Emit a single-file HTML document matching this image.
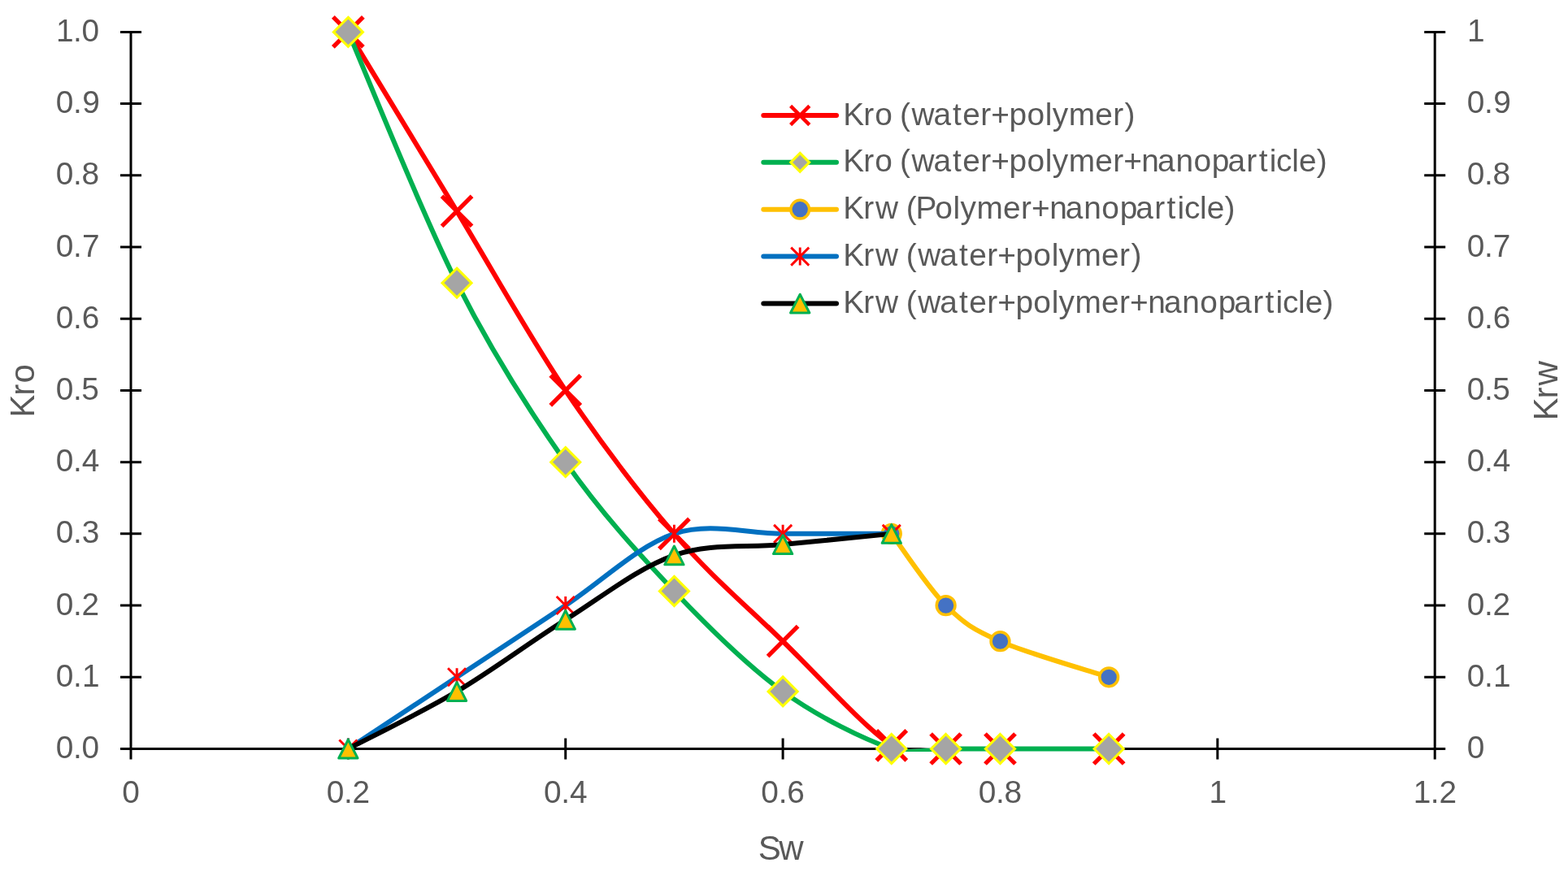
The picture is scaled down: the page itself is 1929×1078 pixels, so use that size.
<!DOCTYPE html><html><head><meta charset="utf-8"><title>Relative permeability chart</title><style>html,body{margin:0;padding:0;background:#fff;width:1929px;height:1078px;overflow:hidden}svg{display:block}text{font-family:"Liberation Sans",Arial,sans-serif;fill:#595959}</style></head><body>
<svg width="1929" height="1078" viewBox="0 0 1929 1078">
<rect width="1929" height="1078" fill="#fff"/>
<path d="M161.0,39.4L161.0,934.5M1765.2,39.4L1765.2,934.5M148.0,921.5L1778.2,921.5M148.0,921.50L174.0,921.50M1752.2,921.50L1778.2,921.50M148.0,833.29L174.0,833.29M1752.2,833.29L1778.2,833.29M148.0,745.08L174.0,745.08M1752.2,745.08L1778.2,745.08M148.0,656.87L174.0,656.87M1752.2,656.87L1778.2,656.87M148.0,568.66L174.0,568.66M1752.2,568.66L1778.2,568.66M148.0,480.45L174.0,480.45M1752.2,480.45L1778.2,480.45M148.0,392.24L174.0,392.24M1752.2,392.24L1778.2,392.24M148.0,304.03L174.0,304.03M1752.2,304.03L1778.2,304.03M148.0,215.82L174.0,215.82M1752.2,215.82L1778.2,215.82M148.0,127.61L174.0,127.61M1752.2,127.61L1778.2,127.61M148.0,39.40L174.0,39.40M1752.2,39.40L1778.2,39.40M161.00,908.5L161.00,934.5M428.37,908.5L428.37,934.5M695.73,908.5L695.73,934.5M963.10,908.5L963.10,934.5M1230.47,908.5L1230.47,934.5M1497.83,908.5L1497.83,934.5M1765.20,908.5L1765.20,934.5" stroke="#000" stroke-width="3" fill="none"/>
<text x="68.68 90.00 100.57" y="933.10" font-size="38.80">0.0</text>
<text x="1804.65" y="933.10" font-size="38.80">0</text>
<text x="68.68 90.00 100.91" y="844.89" font-size="38.80">0.1</text>
<text x="1804.65 1825.98 1836.88" y="844.89" font-size="38.80">0.1</text>
<text x="68.68 90.00 100.62" y="756.68" font-size="38.80">0.2</text>
<text x="1804.65 1825.98 1836.60" y="756.68" font-size="38.80">0.2</text>
<text x="68.68 90.00 100.86" y="668.47" font-size="38.80">0.3</text>
<text x="1804.65 1825.98 1836.83" y="668.47" font-size="38.80">0.3</text>
<text x="68.68 90.00 100.70" y="580.26" font-size="38.80">0.4</text>
<text x="1804.65 1825.98 1836.68" y="580.26" font-size="38.80">0.4</text>
<text x="68.68 90.00 100.32" y="492.05" font-size="38.80">0.5</text>
<text x="1804.65 1825.98 1836.29" y="492.05" font-size="38.80">0.5</text>
<text x="68.68 90.00 100.65" y="403.84" font-size="38.80">0.6</text>
<text x="1804.65 1825.98 1836.63" y="403.84" font-size="38.80">0.6</text>
<text x="68.68 90.00 100.88" y="315.63" font-size="38.80">0.7</text>
<text x="1804.65 1825.98 1836.85" y="315.63" font-size="38.80">0.7</text>
<text x="68.68 90.00 100.57" y="227.42" font-size="38.80">0.8</text>
<text x="1804.65 1825.98 1836.54" y="227.42" font-size="38.80">0.8</text>
<text x="68.68 90.00 101.20" y="139.21" font-size="38.80">0.9</text>
<text x="1804.65 1825.98 1837.18" y="139.21" font-size="38.80">0.9</text>
<text x="69.02 90.00 100.57" y="51.00" font-size="38.80">1.0</text>
<text x="1805.00" y="51.00" font-size="38.80">1</text>
<text x="150.21" y="988.20" font-size="38.80">0</text>
<text x="401.63 422.96 433.57" y="988.20" font-size="38.80">0.2</text>
<text x="669.00 690.32 701.02" y="988.20" font-size="38.80">0.4</text>
<text x="936.37 957.69 968.34" y="988.20" font-size="38.80">0.6</text>
<text x="1203.73 1225.06 1235.62" y="988.20" font-size="38.80">0.8</text>
<text x="1487.39" y="988.20" font-size="38.80">1</text>
<text x="1738.81 1759.79 1770.41" y="988.20" font-size="38.80">1.2</text>
<defs><linearGradient id="gb" x1="0" x2="1" y1="0" y2="0"><stop offset="0" stop-color="#000" stop-opacity="1"/><stop offset="0.6" stop-color="#000" stop-opacity="0.85"/><stop offset="1" stop-color="#000" stop-opacity="0"/></linearGradient></defs>
<path d="M428.37,39.40 C450.65,76.15 517.49,186.42 562.05,259.92 C606.61,333.43 651.17,414.29 695.73,480.45 C740.29,546.61 784.86,605.41 829.42,656.87 C873.98,708.33 918.54,745.79 963.10,789.18 C1007.66,832.58 1063.36,895.21 1096.78,917.27" stroke="#FF0000" stroke-width="6.0" fill="none" stroke-linejoin="round" stroke-linecap="round"/>
<path d="M409.87,20.90L446.87,57.90M409.87,57.90L446.87,20.90" stroke="#FF0000" stroke-width="5.30" fill="none"/>
<path d="M543.55,241.42L580.55,278.42M543.55,278.42L580.55,241.42" stroke="#FF0000" stroke-width="5.30" fill="none"/>
<path d="M677.23,461.95L714.23,498.95M677.23,498.95L714.23,461.95" stroke="#FF0000" stroke-width="5.30" fill="none"/>
<path d="M810.92,638.37L847.92,675.37M810.92,675.37L847.92,638.37" stroke="#FF0000" stroke-width="5.30" fill="none"/>
<path d="M944.60,770.68L981.60,807.68M944.60,807.68L981.60,770.68" stroke="#FF0000" stroke-width="5.30" fill="none"/>
<path d="M1078.28,898.77L1115.28,935.77M1078.28,935.77L1115.28,898.77" stroke="#FF0000" stroke-width="5.30" fill="none"/>
<path d="M1145.12,903.00L1182.12,940.00M1145.12,940.00L1182.12,903.00" stroke="#FF0000" stroke-width="5.30" fill="none"/>
<path d="M1211.97,903.00L1248.97,940.00M1211.97,940.00L1248.97,903.00" stroke="#FF0000" stroke-width="5.30" fill="none"/>
<path d="M1345.65,903.00L1382.65,940.00M1345.65,940.00L1382.65,903.00" stroke="#FF0000" stroke-width="5.30" fill="none"/>
<path d="M428.37,39.40 C450.65,90.86 517.49,259.93 562.05,348.13 C606.61,436.34 651.17,505.44 695.73,568.66 C740.29,631.88 784.86,680.39 829.42,727.44 C873.98,774.48 918.54,818.59 963.10,850.93 C1007.66,883.28 1063.36,909.74 1096.78,921.50 C1128.31,922.70 1141.34,921.50 1163.62,921.50 C1185.91,921.50 1197.05,921.50 1230.47,921.50 C1263.89,921.50 1341.87,921.50 1364.15,921.50" stroke="#00B050" stroke-width="6.0" fill="none" stroke-linejoin="round" stroke-linecap="round"/>
<rect x="1112" y="916" width="34" height="12" fill="#fff"/>
<path d="M1112,922.0L1146,920.4L1146,924.9L1112,924.9Z" fill="#00B050"/>
<path d="M1112,919.9L1146,919.9L1146,920.6L1112,922.3Z" fill="url(#gb)"/>
<path d="M428.37,21.40L446.37,39.40L428.37,57.40L410.37,39.40Z" fill="#A5A5A5" stroke="#FFFF00" stroke-width="3.1"/>
<path d="M562.05,330.13L580.05,348.13L562.05,366.13L544.05,348.13Z" fill="#A5A5A5" stroke="#FFFF00" stroke-width="3.1"/>
<path d="M695.73,550.66L713.73,568.66L695.73,586.66L677.73,568.66Z" fill="#A5A5A5" stroke="#FFFF00" stroke-width="3.1"/>
<path d="M829.42,709.44L847.42,727.44L829.42,745.44L811.42,727.44Z" fill="#A5A5A5" stroke="#FFFF00" stroke-width="3.1"/>
<path d="M963.10,832.93L981.10,850.93L963.10,868.93L945.10,850.93Z" fill="#A5A5A5" stroke="#FFFF00" stroke-width="3.1"/>
<path d="M1096.78,903.50L1114.78,921.50L1096.78,939.50L1078.78,921.50Z" fill="#A5A5A5" stroke="#FFFF00" stroke-width="3.1"/>
<path d="M1163.62,903.50L1181.62,921.50L1163.62,939.50L1145.62,921.50Z" fill="#A5A5A5" stroke="#FFFF00" stroke-width="3.1"/>
<path d="M1230.47,903.50L1248.47,921.50L1230.47,939.50L1212.47,921.50Z" fill="#A5A5A5" stroke="#FFFF00" stroke-width="3.1"/>
<path d="M1364.15,903.50L1382.15,921.50L1364.15,939.50L1346.15,921.50Z" fill="#A5A5A5" stroke="#FFFF00" stroke-width="3.1"/>
<path d="M1096.78,656.87 C1107.92,671.57 1141.34,723.03 1163.62,745.08 C1185.91,767.13 1197.05,774.48 1230.47,789.18 C1263.89,803.89 1341.87,825.94 1364.15,833.29" stroke="#FFC000" stroke-width="6.0" fill="none" stroke-linejoin="round" stroke-linecap="round"/>
<circle cx="1096.78" cy="656.87" r="11.4" fill="#4472C4" stroke="#FFC000" stroke-width="3.5"/>
<circle cx="1163.62" cy="745.08" r="11.4" fill="#4472C4" stroke="#FFC000" stroke-width="3.5"/>
<circle cx="1230.47" cy="789.18" r="11.4" fill="#4472C4" stroke="#FFC000" stroke-width="3.5"/>
<circle cx="1364.15" cy="833.29" r="11.4" fill="#4472C4" stroke="#FFC000" stroke-width="3.5"/>
<path d="M428.37,921.50 C450.65,906.80 517.49,862.69 562.05,833.29 C606.61,803.89 651.17,774.48 695.73,745.08 C740.29,715.68 784.86,671.57 829.42,656.87 C873.98,642.17 918.54,656.87 963.10,656.87 C1007.66,656.87 1074.50,656.87 1096.78,656.87" stroke="#0070C0" stroke-width="6.0" fill="none" stroke-linejoin="round" stroke-linecap="round"/>
<path d="M417.37,910.50L439.37,932.50M417.37,932.50L439.37,910.50M428.37,910.50L428.37,932.50" stroke="#FF0000" stroke-width="2.9" fill="none"/>
<path d="M551.05,822.29L573.05,844.29M551.05,844.29L573.05,822.29M562.05,822.29L562.05,844.29" stroke="#FF0000" stroke-width="2.9" fill="none"/>
<path d="M684.73,734.08L706.73,756.08M684.73,756.08L706.73,734.08M695.73,734.08L695.73,756.08" stroke="#FF0000" stroke-width="2.9" fill="none"/>
<path d="M818.42,645.87L840.42,667.87M818.42,667.87L840.42,645.87M829.42,645.87L829.42,667.87" stroke="#FF0000" stroke-width="2.9" fill="none"/>
<path d="M952.10,645.87L974.10,667.87M952.10,667.87L974.10,645.87M963.10,645.87L963.10,667.87" stroke="#FF0000" stroke-width="2.9" fill="none"/>
<path d="M1085.78,645.87L1107.78,667.87M1085.78,667.87L1107.78,645.87M1096.78,645.87L1096.78,667.87" stroke="#FF0000" stroke-width="2.9" fill="none"/>
<path d="M428.37,921.50 C450.65,909.74 517.49,877.39 562.05,850.93 C606.61,824.47 651.17,790.66 695.73,762.72 C740.29,734.79 784.86,698.77 829.42,683.33 C873.98,667.90 918.54,674.51 963.10,670.10 C1007.66,665.69 1074.50,659.08 1096.78,656.87" stroke="#000000" stroke-width="6.0" fill="none" stroke-linejoin="round" stroke-linecap="round"/>
<path d="M428.37,910.20L440.02,933.00L416.72,933.00Z" fill="#FFC000" stroke="#00B050" stroke-width="3" stroke-linejoin="round"/>
<path d="M562.05,839.63L573.70,862.43L550.40,862.43Z" fill="#FFC000" stroke="#00B050" stroke-width="3" stroke-linejoin="round"/>
<path d="M695.73,751.42L707.38,774.22L684.08,774.22Z" fill="#FFC000" stroke="#00B050" stroke-width="3" stroke-linejoin="round"/>
<path d="M829.42,672.03L841.07,694.83L817.77,694.83Z" fill="#FFC000" stroke="#00B050" stroke-width="3" stroke-linejoin="round"/>
<path d="M963.10,658.80L974.75,681.60L951.45,681.60Z" fill="#FFC000" stroke="#00B050" stroke-width="3" stroke-linejoin="round"/>
<path d="M1096.78,645.57L1108.43,668.37L1085.13,668.37Z" fill="#FFC000" stroke="#00B050" stroke-width="3" stroke-linejoin="round"/>
<text x="932.64 958.35" y="1057.90" font-size="42.03">Sw</text>
<text x="-34.22 -7.21 8.06" y="0.00" font-size="42.03" transform="translate(42.30,479.50) rotate(-90)">Kro</text>
<text x="-38.49 -11.48 4.55" y="0.00" font-size="42.03" transform="translate(1915.80,479.00) rotate(-90)">Krw</text>
<path d="M939.3,142.0L1029,142.0" stroke="#FF0000" stroke-width="6.0" stroke-linecap="round"/>
<path d="M972.60,130.40L995.80,153.60M972.60,153.60L995.80,130.40" stroke="#FF0000" stroke-width="4.40" fill="none"/>
<text x="1037.27 1062.21 1076.31 1098.17 1106.97 1121.38 1148.44 1172.02 1184.32 1206.34 1219.27 1241.56 1263.42 1285.78 1294.69 1314.70 1347.19 1369.21 1383.54" y="153.60" font-size="38.80">Kro (water+polymer)</text>
<path d="M939.3,199.8L1029,199.8" stroke="#00B050" stroke-width="6.0" stroke-linecap="round"/>
<path d="M984.20,188.40L995.60,199.80L984.20,211.20L972.80,199.80Z" fill="#A5A5A5" stroke="#FFFF00" stroke-width="3.1"/>
<text x="1037.27 1062.21 1076.31 1098.17 1106.97 1121.38 1148.44 1172.02 1184.32 1206.34 1219.27 1241.56 1263.42 1285.78 1294.69 1314.70 1347.19 1369.21 1382.14 1404.31 1424.02 1446.50 1468.48 1490.84 1510.42 1533.35 1548.64 1561.73 1570.04 1589.14 1597.98 1619.69" y="211.40" font-size="38.80">Kro (water+polymer+nanoparticle)</text>
<path d="M939.3,257.7L1029,257.7" stroke="#FFC000" stroke-width="6.0" stroke-linecap="round"/>
<circle cx="984.20" cy="257.70" r="11.4" fill="#4472C4" stroke="#FFC000" stroke-width="3.5"/>
<text x="1037.27 1062.21 1077.01 1106.05 1114.85 1126.47 1150.26 1172.62 1181.53 1201.54 1234.03 1256.05 1268.98 1291.15 1310.86 1333.33 1355.32 1377.68 1397.26 1420.19 1435.48 1448.56 1456.88 1475.97 1484.82 1506.52" y="269.30" font-size="38.80">Krw (Polymer+nanoparticle)</text>
<path d="M939.3,315.6L1029,315.6" stroke="#0070C0" stroke-width="6.0" stroke-linecap="round"/>
<path d="M973.20,304.60L995.20,326.60M973.20,326.60L995.20,304.60M984.20,304.60L984.20,326.60" stroke="#FF0000" stroke-width="2.9" fill="none"/>
<text x="1037.27 1062.21 1077.01 1106.05 1114.85 1129.26 1156.32 1179.89 1192.19 1214.21 1227.15 1249.44 1271.30 1293.66 1302.56 1322.58 1355.07 1377.09 1391.41" y="327.20" font-size="38.80">Krw (water+polymer)</text>
<path d="M939.3,373.5L1029,373.5" stroke="#000000" stroke-width="6.0" stroke-linecap="round"/>
<path d="M984.20,362.20L995.85,385.00L972.55,385.00Z" fill="#FFC000" stroke="#00B050" stroke-width="3" stroke-linejoin="round"/>
<text x="1037.27 1062.21 1077.01 1106.05 1114.85 1129.26 1156.32 1179.89 1192.19 1214.21 1227.15 1249.44 1271.30 1293.66 1302.56 1322.58 1355.07 1377.09 1390.02 1412.19 1431.90 1454.37 1476.35 1498.71 1518.30 1541.23 1556.52 1569.60 1577.92 1597.01 1605.86 1627.56" y="385.10" font-size="38.80">Krw (water+polymer+nanoparticle)</text>
</svg></body></html>
